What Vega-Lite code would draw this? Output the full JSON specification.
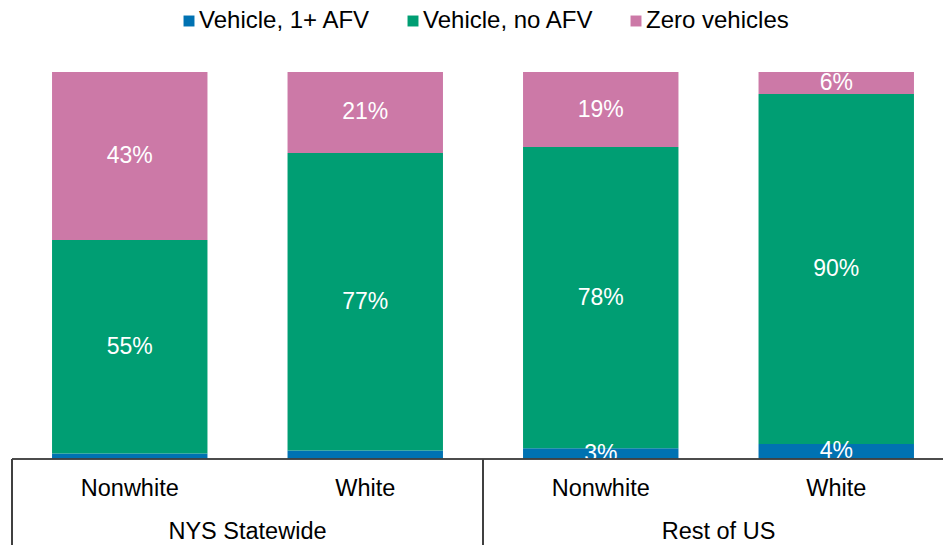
{
  "$schema": "https://vega.github.io/schema/vega-lite/v6.json",
  "width": 931,
  "height": 473,
  "padding": {"left": 12, "top": 72, "right": 0, "bottom": 0},
  "autosize": {"type": "none"},
  "config": {"view": {"stroke": null}, "font": "Liberation Sans"},
  "datasets": {
    "shares": [
      {"region": "NYS Statewide", "race": "Nonwhite", "key": "NYS Statewide|Nonwhite", "type": "Vehicle, 1+ AFV", "order": 1, "value": 0.014},
      {"region": "NYS Statewide", "race": "Nonwhite", "key": "NYS Statewide|Nonwhite", "type": "Vehicle, no AFV", "order": 2, "value": 0.552},
      {"region": "NYS Statewide", "race": "Nonwhite", "key": "NYS Statewide|Nonwhite", "type": "Zero vehicles", "order": 3, "value": 0.434},
      {"region": "NYS Statewide", "race": "White", "key": "NYS Statewide|White", "type": "Vehicle, 1+ AFV", "order": 1, "value": 0.022},
      {"region": "NYS Statewide", "race": "White", "key": "NYS Statewide|White", "type": "Vehicle, no AFV", "order": 2, "value": 0.769},
      {"region": "NYS Statewide", "race": "White", "key": "NYS Statewide|White", "type": "Zero vehicles", "order": 3, "value": 0.209},
      {"region": "Rest of US", "race": "Nonwhite", "key": "Rest of US|Nonwhite", "type": "Vehicle, 1+ AFV", "order": 1, "value": 0.028},
      {"region": "Rest of US", "race": "Nonwhite", "key": "Rest of US|Nonwhite", "type": "Vehicle, no AFV", "order": 2, "value": 0.778},
      {"region": "Rest of US", "race": "Nonwhite", "key": "Rest of US|Nonwhite", "type": "Zero vehicles", "order": 3, "value": 0.194},
      {"region": "Rest of US", "race": "White", "key": "Rest of US|White", "type": "Vehicle, 1+ AFV", "order": 1, "value": 0.039},
      {"region": "Rest of US", "race": "White", "key": "Rest of US|White", "type": "Vehicle, no AFV", "order": 2, "value": 0.904},
      {"region": "Rest of US", "race": "White", "key": "Rest of US|White", "type": "Zero vehicles", "order": 3, "value": 0.057}
    ],
    "groups": [
      {"region": "NYS Statewide", "key": "NYS Statewide|Nonwhite"},
      {"region": "Rest of US", "key": "Rest of US|Nonwhite"}
    ]
  },
  "layer": [
    {
      "data": {"name": "shares"},
      "mark": {"type": "bar", "width": {"band": 0.66}},
      "encoding": {
        "x": {
          "field": "key",
          "type": "nominal",
          "scale": {
            "domain": ["NYS Statewide|Nonwhite", "NYS Statewide|White", "Rest of US|Nonwhite", "Rest of US|White"],
            "range": [0, 942],
            "paddingInner": 0,
            "paddingOuter": 0
          },
          "axis": null
        },
        "y": {
          "field": "value",
          "type": "quantitative",
          "stack": "zero",
          "scale": {"domain": [-0.2222, 1], "nice": false, "zero": false},
          "axis": null
        },
        "color": {
          "field": "type",
          "type": "nominal",
          "scale": {
            "domain": ["Vehicle, 1+ AFV", "Vehicle, no AFV", "Zero vehicles"],
            "range": ["#0072B2", "#009E73", "#CC79A7"]
          },
          "legend": {
            "title": null,
            "orient": "none",
            "legendX": 165,
            "legendY": -63,
            "direction": "horizontal",
            "symbolType": "square",
            "symbolSize": 120,
            "symbolStrokeWidth": 0,
            "labelFontSize": 24,
            "labelLimit": 0,
            "labelColor": "#000000",
            "labelFont": "Liberation Sans",
            "columnPadding": 30,
            "labelOffset": -2
          }
        },
        "order": {"field": "order", "type": "quantitative"}
      }
    },
    {
      "data": {"name": "shares"},
      "transform": [
        {"stack": "value", "groupby": ["key"], "sort": [{"field": "order"}], "as": ["v0", "v1"]},
        {"calculate": "(datum.v0 + datum.v1) / 2", "as": "mid"},
        {"filter": "datum.value >= 0.025"}
      ],
      "mark": {"type": "text", "color": "#ffffff", "fontSize": 23, "baseline": "middle", "align": "center"},
      "encoding": {
        "x": {"field": "key", "type": "nominal"},
        "y": {"field": "mid", "type": "quantitative"},
        "text": {"field": "value", "type": "quantitative", "format": ".0%"}
      }
    },
    {
      "data": {"name": "shares"},
      "transform": [{"filter": "datum.order == 1"}],
      "mark": {"type": "text", "color": "#000000", "fontSize": 23.5, "baseline": "middle", "align": "center"},
      "encoding": {
        "x": {"field": "key", "type": "nominal"},
        "y": {"datum": -0.0775},
        "text": {"field": "race", "type": "nominal"}
      }
    },
    {
      "data": {"name": "groups"},
      "mark": {"type": "text", "color": "#000000", "fontSize": 23.5, "baseline": "middle", "align": "center"},
      "encoding": {
        "x": {"field": "key", "type": "nominal", "bandPosition": 1},
        "y": {"datum": -0.188},
        "text": {"field": "region", "type": "nominal"}
      }
    },
    {
      "data": {"name": "groups"},
      "mark": {"type": "rule", "color": "#404040", "strokeWidth": 2},
      "encoding": {
        "x": {"field": "key", "type": "nominal", "bandPosition": 0},
        "y": {"datum": 0},
        "y2": {"datum": -0.2222}
      }
    },
    {
      "data": {"name": "groups"},
      "mark": {"type": "rule", "color": "#404040", "strokeWidth": 1.5},
      "encoding": {
        "y": {"datum": 0}
      }
    }
  ]
}
